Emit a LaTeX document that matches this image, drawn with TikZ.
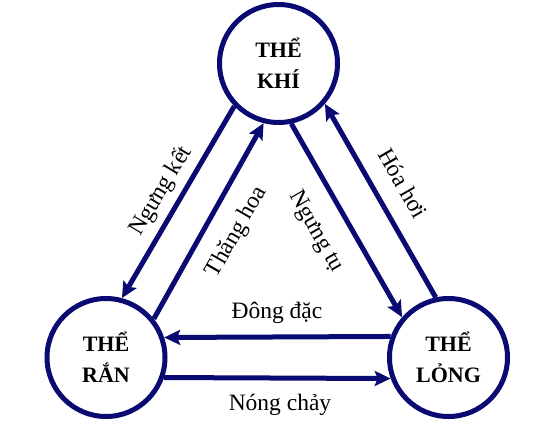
\documentclass[tikz,border=0pt]{standalone}
\usepackage{fontspec}
\setmainfont{Liberation Serif}
\usetikzlibrary{arrows.meta}
\definecolor{navyline}{RGB}{10,10,115}
\begin{document}
\begin{tikzpicture}[x=1pt,y=-1pt,
  state/.style={circle, draw=navyline, line width=5pt, minimum size=118pt, inner sep=0pt, align=center, font=\bfseries\fontsize{22}{31}\selectfont},
  flow/.style={draw=navyline, line width=5pt, -{Stealth[length=16pt,width=15pt,inset=3pt]}},
  lbl/.style={font=\fontsize{23.5}{27}\selectfont, inner sep=0pt}]
\useasboundingbox (0,0) rectangle (546,434);
\node[state] (khi) at (278.5,63.5) {THỂ\\KHÍ};
\node[state] (ran) at (106,357.5) {THỂ\\RẮN};
\node[state] (long) at (448.5,357.5) {THỂ\\LỎNG};
% left pair
\draw[flow] (khi.-136.4) -- (ran.75.7);
\draw[flow] (ran.39.7) -- (khi.-104.1);
% right pair
\draw[flow] (khi.-78.9) -- (long.139.8);
\draw[flow] (long.102.4) -- (khi.-41.7);
% bottom pair
\draw[flow] (long.160.53) -- (ran.19.47);
\draw[flow] (ran.-19.47) -- (long.-160.53);
% labels
\node[lbl, rotate=59] (lnk) at (161,191) {Ngưng kết};
\node[lbl, rotate=60] (lth) at (237,232) {Thăng hoa};
\node[lbl, rotate=-60] (lnt) at (316,232) {Ngưng tụ};
\node[lbl, rotate=-60] (lhh) at (403,183) {Hóa hơi};
\node[lbl] (ldd) at (277,313) {Đông đặc};
\node[lbl] (lnc) at (280,405) {Nóng chảy};
\end{tikzpicture}
\end{document}
